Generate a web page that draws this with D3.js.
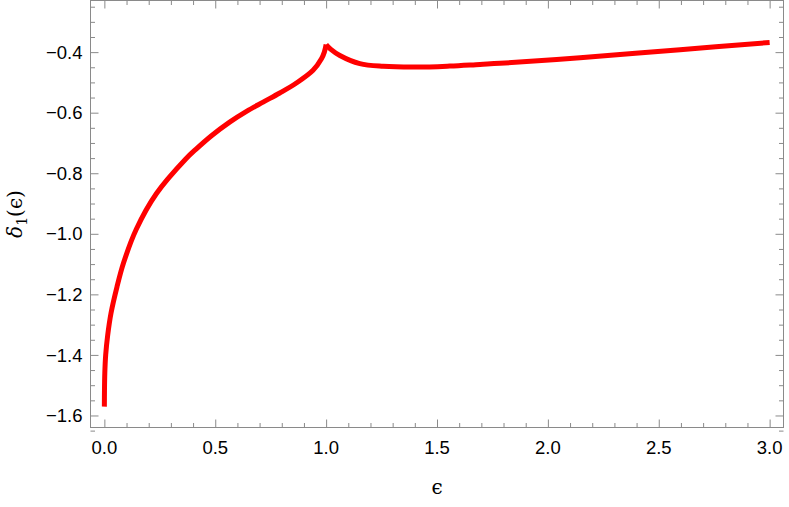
<!DOCTYPE html>
<html lang="en">
<head>
    <meta charset="UTF-8">
    <title>delta_1(epsilon)</title>
    <script src="https://d3js.org/d3.v7.min.js"></script>
    <style>
        body { margin: 0; background: #fff; }
        .frame { fill: none; stroke: #8a8a8a; stroke-width: 1px; }
        .tick line { stroke: #8a8a8a; stroke-width: 1px; }
        .tick-label { font-family: "Liberation Sans", Arial, sans-serif; font-size: 18.5px; fill: #000; }
        .curve { fill: none; stroke: #ff0000; stroke-width: 5px; stroke-linejoin: miter; }
    </style>
</head>
<body>
<svg width="789" height="507"></svg>
<script>
    // values (cusp at eps = 1)
    const epsValues = [0, 0.0005, 0.002, 0.006, 0.015, 0.03, 0.057, 0.087, 0.144, 0.235, 0.367, 0.415,
        0.483, 0.565, 0.641, 0.716, 0.791, 0.866, 0.941, 0.979, 0.992, 1.0,
        1.02, 1.062, 1.152, 1.257, 1.408, 1.558, 1.694, 1.784, 2.145, 2.596, 3.0];
    const deltaValues = [-1.5708, -1.52, -1.46, -1.40, -1.335, -1.262, -1.175, -1.095, -0.985, -0.867, -0.753, -0.7194,
        -0.676, -0.631, -0.5955, -0.565, -0.535, -0.502, -0.460, -0.422, -0.400, -0.375,
        -0.390, -0.411, -0.438, -0.447, -0.4495, -0.446, -0.4405, -0.437, -0.4185, -0.392, -0.368];
    const xTickLabels = [0, 0.5, 1, 1.5, 2, 2.5, 3];
    const yTickLabels = [-1.6, -1.4, -1.2, -1.0, -0.8, -0.6, -0.4];

    const mLeft = 90.5, mRight = 783.5, mTop = 0.5, mBottom = 427.5;
    const svg = d3.select("svg");

    const x = d3.scaleLinear().domain([-0.0625, 3.0625]).range([mLeft, mRight]);
    const y = d3.scaleLinear().domain([-1.6397, -0.2295]).range([mBottom, mTop]);

    const xMinor = d3.range(0, 31).map(i => i / 10).filter(v => Math.abs(v * 2 - Math.round(v * 2)) > 1e-6);
    const yMinor = d3.range(-33, -4).map(i => i * 0.05).filter(v => Math.abs(v * 5 - Math.round(v * 5)) > 1e-6);

    const fmt = d => d3.format(".1f")(d).replace("-", "\u2212");

    function drawAxis(axisFn, scale, majors, minors, translate) {
        const g = svg.append("g").attr("transform", translate);
        g.call(axisFn(scale).tickValues(minors).tickSize(4.5).tickFormat(""));
        const g2 = svg.append("g").attr("transform", translate);
        g2.call(axisFn(scale).tickValues(majors).tickSize(8).tickFormat(""));
        [g, g2].forEach(s => s.select(".domain").remove());
        return g2;
    }

    // Mathematica style frame: ticks point inward on all four sides
    drawAxis(d3.axisTop, x, xTickLabels, xMinor, `translate(0,${mBottom})`);
    drawAxis(d3.axisBottom, x, xTickLabels, xMinor, `translate(0,${mTop})`);
    drawAxis(d3.axisRight, y, yTickLabels, yMinor, `translate(${mLeft},0)`);
    drawAxis(d3.axisLeft, y, yTickLabels, yMinor, `translate(${mRight},0)`);

    // labels
    svg.append("g").selectAll("text")
        .data(xTickLabels).enter().append("text")
        .attr("class", "tick-label")
        .attr("x", d => x(d))
        .attr("y", mBottom + 26)
        .attr("text-anchor", "middle")
        .text(d => d3.format(".1f")(d));

    svg.append("g").selectAll("text")
        .data(yTickLabels).enter().append("text")
        .attr("class", "tick-label")
        .attr("x", mLeft - 8)
        .attr("y", d => y(d))
        .attr("dy", "0.36em")
        .attr("text-anchor", "end")
        .text(fmt);

    svg.append("rect").attr("class", "frame")
        .attr("x", mLeft).attr("y", mTop)
        .attr("width", mRight - mLeft).attr("height", mBottom - mTop);

    const pts = epsValues.map((e, i) => [e, deltaValues[i]]);
    const cusp = epsValues.indexOf(1.0);
    const line = d3.line()
        .x(d => x(d[0]))
        .y(d => y(d[1]))
        .curve(d3.curveCatmullRom.alpha(0.5));

    // two branches meeting at the cusp
    svg.append("g").selectAll("path")
        .data([pts.slice(0, cusp + 1), pts.slice(cusp)])
        .enter().append("path")
        .attr("class", "curve")
        .attr("d", line);

    // axis titles
    svg.append("text")
        .attr("x", x(1.5))
        .attr("y", 494)
        .attr("text-anchor", "middle")
        .style("font-family", "'DejaVu Serif', serif")
        .style("font-size", "20px")
        .text("\u03F5");

    const yt = svg.append("text")
        .attr("transform", `translate(22,${(mTop + mBottom) / 2}) rotate(-90)`)
        .attr("text-anchor", "middle")
        .style("font-family", "'DejaVu Serif', 'Liberation Serif', serif")
        .style("font-size", "20px");
    yt.append("tspan").style("font-style", "italic").text("\u03B4");
    yt.append("tspan").attr("dy", 5).style("font-size", "14px").text("1");
    yt.append("tspan").attr("dy", -5).text("(\u03F5)");
</script>
</body>
</html>
